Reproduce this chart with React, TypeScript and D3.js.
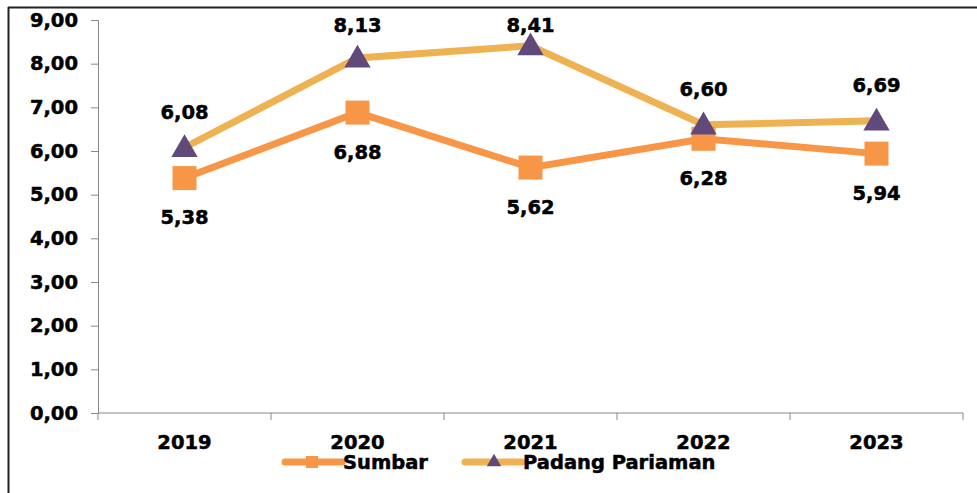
import * as d3 from "d3";
import { useEffect, useRef } from "react";

const years = ["2019", "2020", "2021", "2022", "2023"];
const sumbar = [5.38, 6.88, 5.62, 6.28, 5.94];
const padang = [6.08, 8.13, 8.41, 6.6, 6.69];
const yTicks = [0, 1, 2, 3, 4, 5, 6, 7, 8, 9];

const fmt = (v: number) => v.toFixed(2).replace(".", ",");

function App() {
  const ref = useRef<SVGSVGElement>(null);
  const width = 977;
  const height = 493;
  const font = "'DejaVu Sans', Verdana, sans-serif";
  const fs = 19.5;

  useEffect(() => {
    const svg = d3.select(ref.current);
    svg.selectAll("*").remove();

    // bold text helper (a touch of stroke to match the heavy original font)
    const boldText = (sel: any) =>
      sel.attr("font-family", font).attr("font-weight", 700).attr("font-size", fs)
        .attr("fill", "#000").attr("stroke", "#000").attr("stroke-width", 0.5);

    // outer frame (only top and left visible)
    svg.append("line").attr("x1", 8).attr("x2", width).attr("y1", 7.5).attr("y2", 7.5)
      .attr("stroke", "#222").attr("stroke-width", 2);
    svg.append("line").attr("x1", 8.5).attr("x2", 8.5).attr("y1", 7).attr("y2", height)
      .attr("stroke", "#222").attr("stroke-width", 2);

    // Scales
    const x = d3.scaleBand().domain(years).range([98, 963]);
    const y = d3.scaleLinear().domain([0, 9]).range([413, 20]);
    const cx = (d: string) => (x(d) as number) + x.bandwidth() / 2;

    // y axis
    const yAxis = d3.axisLeft(y).tickValues(yTicks).tickFormat((d) => fmt(+d)).tickSize(7).tickPadding(13);
    const gy = svg.append("g").attr("transform", "translate(98,0)").call(yAxis);
    gy.selectAll("path,line").attr("stroke", "#888");
    boldText(gy.selectAll("text"));

    // x axis with ticks between categories
    const gx = svg.append("g").attr("transform", "translate(0,413)");
    gx.append("line").attr("x1", 98).attr("x2", 963).attr("stroke", "#888");
    gx.selectAll("line.tk").data(d3.range(years.length + 1)).enter().append("line").attr("class", "tk")
      .attr("x1", (i) => 98 + i * x.step()).attr("x2", (i) => 98 + i * x.step())
      .attr("y1", 0).attr("y2", 7).attr("stroke", "#888");
    boldText(gx.selectAll("text.yr").data(years).enter().append("text").attr("class", "yr")
      .attr("x", cx).attr("y", 36).attr("text-anchor", "middle").text((d) => d));

    const line = d3.line<number>().x((_, i) => cx(years[i])).y((d) => y(d));

    // Padang Pariaman
    svg.append("path").attr("d", line(padang)).attr("fill", "none").attr("stroke", "#EEB252").attr("stroke-width", 7);
    // Sumbar
    svg.append("path").attr("d", line(sumbar)).attr("fill", "none").attr("stroke", "#F79646").attr("stroke-width", 7);

    const tri = d3.symbol().type(d3.symbolTriangle).size(300);
    svg.selectAll("rect.sq").data(sumbar).enter().append("rect").attr("class", "sq")
      .attr("x", (_, i) => cx(years[i]) - 12).attr("y", (d) => y(d) - 12)
      .attr("width", 24).attr("height", 24).attr("fill", "#F79646");
    svg.selectAll("path.tri").data(padang).enter().append("path").attr("class", "tri")
      .attr("d", tri).attr("transform", (d, i) => `translate(${cx(years[i])},${y(d) + 2})`).attr("fill", "#604A7B");

    // data labels
    boldText(svg.selectAll("text.ls").data(sumbar).enter().append("text").attr("class", "ls")
      .attr("x", (_, i) => cx(years[i])).attr("y", (d) => y(d) + 46).attr("text-anchor", "middle")
      .text((d) => fmt(d)));
    boldText(svg.selectAll("text.lp").data(padang).enter().append("text").attr("class", "lp")
      .attr("x", (_, i) => cx(years[i])).attr("y", (d) => Math.max(y(d) - 29, 32)).attr("text-anchor", "middle")
      .text((d) => fmt(d)));

    // Legend
    const legend = [
      { name: "Sumbar", x: 285, color: "#F79646", marker: "sq" },
      { name: "Padang Pariaman", x: 465, color: "#EEB252", marker: "tri" },
    ];
    const lg = svg.append("g").attr("transform", "translate(0,462)");
    legend.forEach((l) => {
      lg.append("line").attr("x1", l.x).attr("x2", l.x + 57).attr("stroke", l.color)
        .attr("stroke-width", 7).attr("stroke-linecap", "round");
      if (l.marker === "sq") {
        lg.append("rect").attr("x", l.x + 21).attr("y", -6).attr("width", 12).attr("height", 12).attr("fill", l.color);
      } else {
        lg.append("path").attr("d", d3.symbol().type(d3.symbolTriangle).size(90)()).attr("transform", `translate(${l.x + 29},0)`).attr("fill", "#604A7B");
      }
      boldText(lg.append("text").attr("x", l.x + 58).attr("y", 7).text(l.name));
    });
  }, []);

  return (
    <div style={{ position: "absolute", left: 0, top: 0 }}>
      <svg ref={ref} width={width} height={height} style={{ display: "block", background: "#fff" }} />
    </div>
  );
}

export default App;
